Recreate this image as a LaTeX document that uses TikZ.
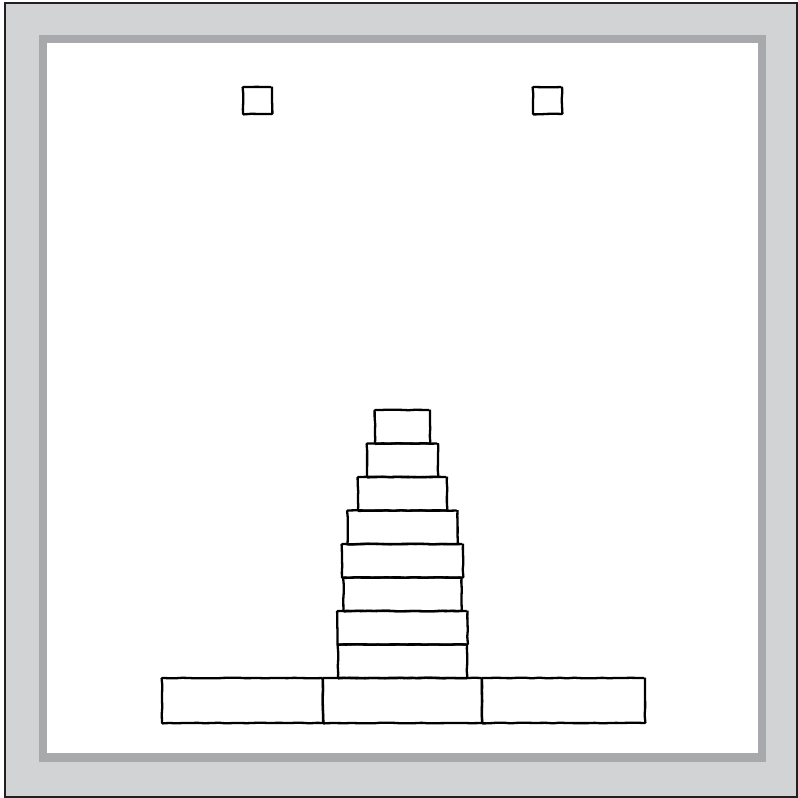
\documentclass[tikz,border=0pt]{standalone}
\usetikzlibrary{positioning,decorations.pathmorphing}

\definecolor{framegray}{HTML}{D1D3D4}
\definecolor{bandgray}{HTML}{A7A9AC}
\definecolor{edgeblack}{HTML}{231F20}

\tikzset{
    sketchy/.style={decorate, decoration={random steps, segment length=7pt, amplitude=0.35pt}},
    block/.style={draw, line width=2.3pt, sketchy, rounded corners=0.8pt, inner sep=0pt, outer sep=0pt, minimum height=33.5pt},
    base/.style={block, minimum width=161pt, minimum height=45pt},
    marker/.style={block, minimum width=29pt, minimum height=27pt}
}

\begin{document}
\begin{tikzpicture}[x=1pt, y=-1pt]
    \pgfmathsetseed{7}
    \useasboundingbox (0,0) rectangle (798,798);
    % frame
    \fill[framegray, draw=edgeblack, line width=2pt] (5,3) rectangle (797,797);
    \fill[bandgray] (39,35) rectangle (766,762);
    \fill[white] (47,43) rectangle (758,753);

    % markers
    \node[marker] (markL) at (257.5,100.5) {};
    \node[marker] (markR) at (547.5,100.5) {};

    % base row
    \node[base, minimum width=159pt] (baseM) at (402.5,700.5) {};
    \node[base, left=0pt of baseM] (baseL) {};
    \node[base, right=0pt of baseM, minimum width=163pt] (baseR) {};

    % tower
    \node[block, minimum width=129pt, above=0pt of baseM] (t8) {};
    \node[block, minimum width=130pt, above=0pt of t8] (t7) {};
    \node[block, minimum width=118pt, above=0pt of t7] (t6) {};
    \node[block, minimum width=121pt, above=0pt of t6] (t5) {};
    \node[block, minimum width=110pt, above=0pt of t5] (t4) {};
    \node[block, minimum width=89pt, above=0pt of t4] (t3) {};
    \node[block, minimum width=71pt, above=0pt of t3] (t2) {};
    \node[block, minimum width=55pt, above=0pt of t2] (t1) {};
\end{tikzpicture}
\end{document}
